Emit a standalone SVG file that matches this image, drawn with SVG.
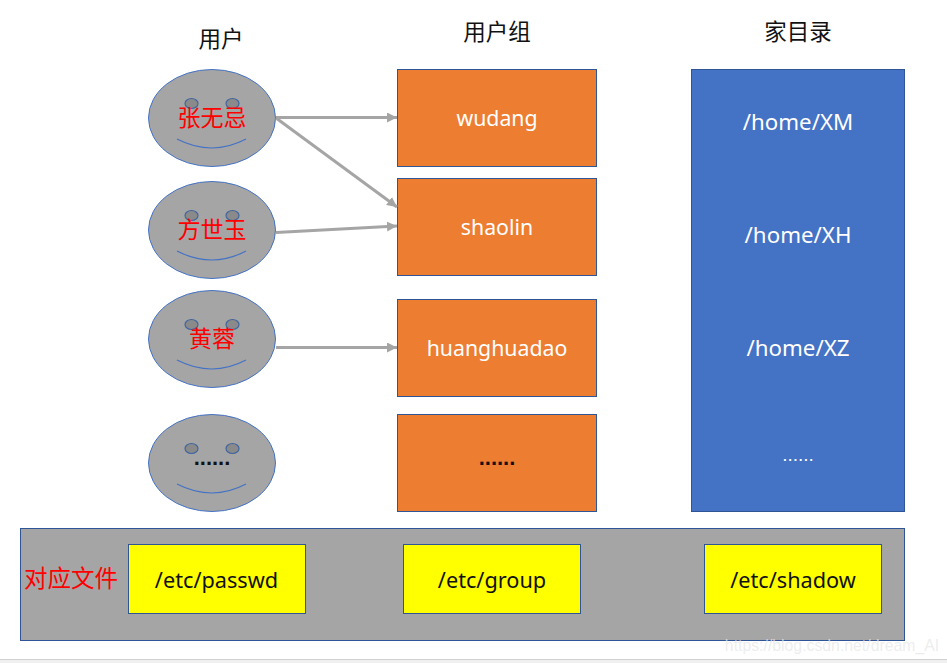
<svg xmlns="http://www.w3.org/2000/svg" width="947" height="663" viewBox="0 0 947 663">
<style>
text{font-family:"Noto Sans","Noto Sans CJK SC",sans-serif;text-anchor:middle}
.cjk{font-family:"Noto Sans CJK SC","Noto Sans",sans-serif}
.face{fill:#a5a5a5;stroke:#4472c4;stroke-width:1}
.eye{fill:#8a8a8a;stroke:#41659f;stroke-width:1.2}
.smile{fill:none;stroke:#4472c4;stroke-width:1.2}
.box{fill:#ed7d31;stroke:#2f5597;stroke-width:1}
.ybox{fill:#ffff00;stroke:#2f5597;stroke-width:1}
.w{fill:#fff;font-size:21.3px}
.wh{fill:#fff;font-size:22.3px}
.k{fill:#111;font-size:21.7px}
.r{fill:#ff0000;font-size:23px}
.h{fill:#111;font-size:22.500px}
.dot{font-family:"Liberation Sans",sans-serif;font-size:22px;font-weight:700;fill:#111}
.conn{stroke:#a5a5a5;stroke-width:3;fill:none;marker-end:url(#a)}
</style>
<defs><marker id="a" markerUnits="userSpaceOnUse" markerWidth="10" markerHeight="10" refX="10" refY="5" orient="auto"><path d="M0 0L10 5L0 10z" fill="#a5a5a5"/></marker></defs>
<rect width="947" height="663" fill="#fff"/>
<rect y="659" width="947" height="4" fill="#f0f0f0"/><rect y="659" width="947" height="1" fill="#d0d0d0"/>
<g id="h1"><text class="h cjk" x="221" y="47">用户</text></g>
<g id="h2"><text class="h cjk" x="497" y="40">用户组</text></g>
<g id="h3"><text class="h cjk" x="798" y="40">家目录</text></g>
<g id="u1"><ellipse class="face" cx="212" cy="118" rx="63.500" ry="48.500"/><ellipse class="eye" cx="191.500" cy="103.500" rx="6.500" ry="5"/><ellipse class="eye" cx="232.500" cy="103.500" rx="6.500" ry="5"/><path class="smile" d="M177 139Q212 157 246 139"/><text class="r cjk" x="212" y="126">张无忌</text></g>
<g id="u2"><ellipse class="face" cx="212" cy="230" rx="63.500" ry="48.500"/><ellipse class="eye" cx="191.500" cy="215.500" rx="6.500" ry="5"/><ellipse class="eye" cx="232.500" cy="215.500" rx="6.500" ry="5"/><path class="smile" d="M177 251Q212 269 246 251"/><text class="r cjk" x="212" y="238">方世玉</text></g>
<g id="u3"><ellipse class="face" cx="212" cy="339" rx="63.500" ry="48.500"/><ellipse class="eye" cx="191.500" cy="324.500" rx="6.500" ry="5"/><ellipse class="eye" cx="232.500" cy="324.500" rx="6.500" ry="5"/><path class="smile" d="M177 360Q212 378 246 360"/><text class="r cjk" x="212" y="347">黄蓉</text></g>
<g id="u4"><ellipse class="face" cx="212" cy="463" rx="63.500" ry="48.500"/><ellipse class="eye" cx="191.500" cy="448.500" rx="6.500" ry="5"/><ellipse class="eye" cx="232.500" cy="448.500" rx="6.500" ry="5"/><path class="smile" d="M177 484Q212 502 246 484"/><text class="dot" x="212" y="465">......</text></g>
<g id="g1"><rect class="box" x="397.500" y="69.500" width="199" height="97"/><text class="w" x="497" y="126">wudang</text></g>
<g id="g2"><rect class="box" x="397.500" y="178.500" width="199" height="97"/><text class="w" x="497" y="235">shaolin</text></g>
<g id="g3"><rect class="box" x="397.500" y="299.500" width="199" height="97"/><text class="w" x="497" y="356">huanghuadao</text></g>
<g id="g4"><rect class="box" x="397.500" y="414.500" width="199" height="97"/><text class="dot" x="497" y="465">......</text></g>
<g id="home"><rect x="691.500" y="69.500" width="213" height="442" fill="#4472c4" stroke="#2f5597"/><text class="wh" x="798" y="130">/home/XM</text><text class="wh" x="798" y="243">/home/XH</text><text class="wh" x="798" y="356">/home/XZ</text><text x="798" y="461" font-size="19" fill="#fff" style="font-family:'Liberation Sans',sans-serif">......</text></g>
<g id="files"><rect x="20.500" y="528.500" width="884" height="112" fill="#a5a5a5" stroke="#2f5597"/><text class="r cjk" x="71" y="587" style="font-size:23.500px">对应文件</text></g>
<g id="f1"><rect class="ybox" x="128.500" y="544.500" width="177" height="69"/><text class="k" x="216.500" y="588">/etc/passwd</text></g>
<g id="f2"><rect class="ybox" x="403.500" y="544.500" width="177" height="69"/><text class="k" x="492" y="588">/etc/group</text></g>
<g id="f3"><rect class="ybox" x="704.500" y="544.500" width="177" height="69"/><text class="k" x="793" y="588">/etc/shadow</text></g>
<g id="connectors">
<path class="conn" d="M276 117.500H397"/>
<path class="conn" d="M276 118L397 207"/>
<path class="conn" d="M276 232.500L397 226"/>
<path class="conn" d="M276 347.500H397"/>
</g>
<text x="832" y="651" font-size="15.800" fill="#e8e8e8" fill-opacity=".75" style="font-family:'Liberation Sans',sans-serif">https://blog.csdn.net/dream_AI</text>
</svg>
